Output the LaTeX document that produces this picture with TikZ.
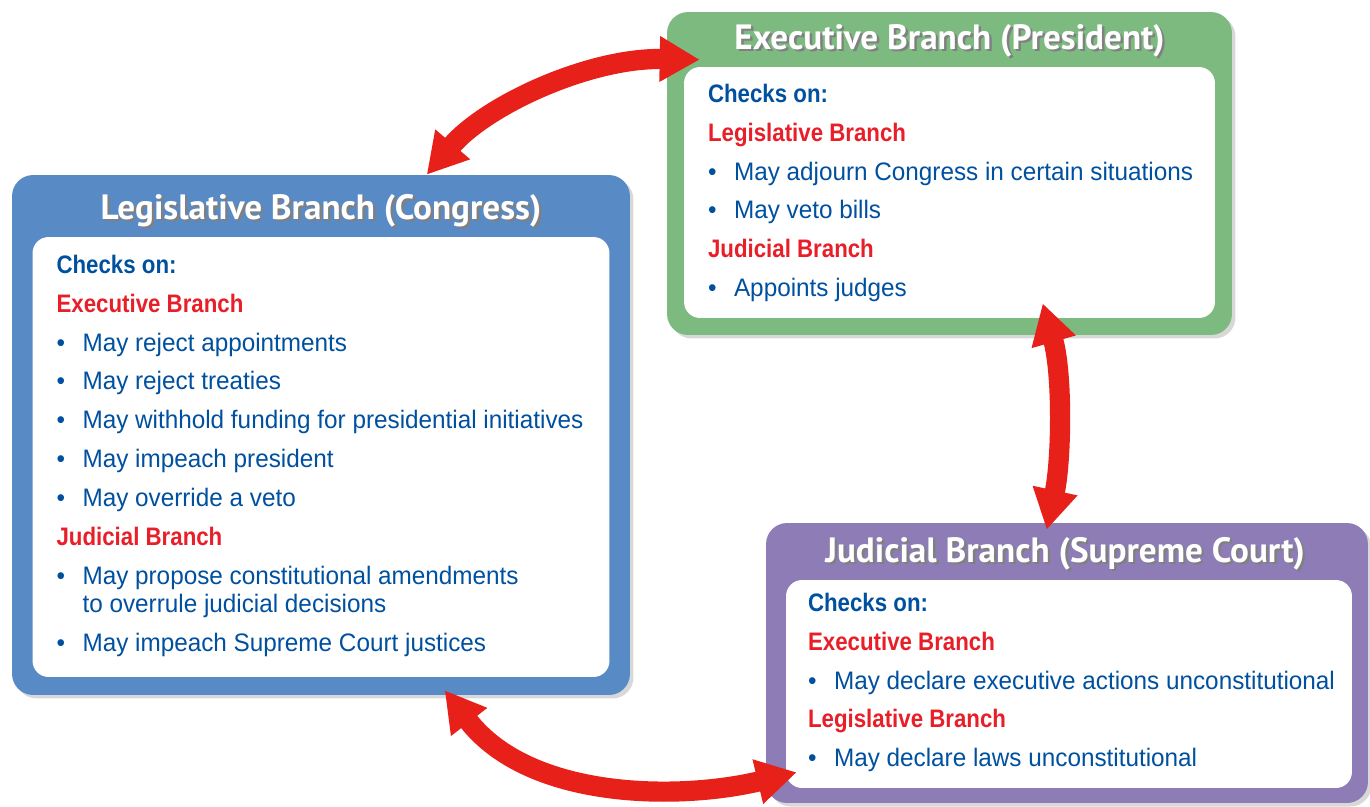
\documentclass[tikz,border=0pt]{standalone}
\usepackage{fontspec}
\setmainfont[FakeStretch=0.96,BoldFeatures={FakeStretch=0.88}]{Liberation Sans}
\newfontfamily\titlefont{PT Sans}
\usetikzlibrary{arrows.meta,calc,shadows}

\definecolor{legblue}{RGB}{88,138,198}
\definecolor{exegreen}{RGB}{125,186,128}
\definecolor{judpurple}{RGB}{141,124,182}
\definecolor{txtblue}{RGB}{0,80,160}
\definecolor{hdred}{RGB}{232,30,40}
\definecolor{arrred}{RGB}{232,32,26}

\newcommand{\bul}[1]{\makebox[0.52cm][l]{\textbullet}#1}
\newcommand{\hd}[1]{{\bfseries\color{hdred}#1}}
\newcommand{\chk}{{\bfseries Checks on:}}
\newcommand{\shtitle}[1]{\makebox[0pt][l]{\hspace{1.4pt}\raisebox{-1.4pt}{\color{black!50}#1}}#1}

\begin{document}
\begin{tikzpicture}[x=0.02cm,y=-0.02cm,
  branch/.style={rounded corners=0.42cm, inner sep=0pt, drop shadow={shadow xshift=2pt,shadow yshift=-2pt,opacity=0.3}},
  panel/.style={fill=white, rounded corners=0.32cm, inner sep=0pt, anchor=south},
  ttl/.style={text=white, font=\titlefont\bfseries\fontsize{20}{22}\selectfont},
  body/.style={anchor=north west, inner sep=0pt, align=left, text=txtblue, font=\fontsize{14.4}{22.1}\selectfont},
  link/.style={arrred, line width=11.5pt, {Triangle[length=0.8cm,width=0.86cm]}-{Triangle[length=0.8cm,width=0.86cm]}}]
  \fill[white] (0,0) rectangle (1370,806);
  \useasboundingbox (0,0) rectangle (1370,806);

  \node[branch, fill=legblue, minimum width=12.36cm, minimum height=10.4cm] (leg) at (321,435) {};
  \node[panel, minimum width=11.54cm, minimum height=8.8cm] (legpanel) at ($(leg.south)+(0,-18)$) {};
  \node[ttl] (legtitle) at ($(leg.north)+(0,37)$) {\shtitle{Legislative Branch (Congress)}};
  \node[body] (legtext) at ($(legpanel.north west)+(24,18)$) {\chk\\
    \hd{Executive Branch}\\
    \bul{May reject appointments}\\
    \bul{May reject treaties}\\
    \bul{May withhold funding for presidential initiatives}\\
    \bul{May impeach president}\\
    \bul{May override a veto}\\
    \hd{Judicial Branch}\\
    \bul{May propose constitutional amendments}\\[-6pt]
    \hspace*{0.52cm}to overrule judicial decisions\\
    \bul{May impeach Supreme Court justices}};

  \node[branch, fill=exegreen, minimum width=11.3cm, minimum height=6.46cm] (exe) at (949.5,173.5) {};
  \node[panel, minimum width=10.62cm, minimum height=5.02cm] (exepanel) at ($(exe.south)+(0,-17)$) {};
  \node[ttl] (exetitle) at ($(exe.north)+(0,30)$) {\shtitle{Executive Branch (President)}};
  \node[body] (exetext) at ($(exepanel.north west)+(24,17)$) {\chk\\
    \hd{Legislative Branch}\\
    \bul{May adjourn Congress in certain situations}\\
    \bul{May veto bills}\\
    \hd{Judicial Branch}\\
    \bul{Appoints judges}};

  \node[branch, fill=judpurple, minimum width=12.04cm, minimum height=5.6cm] (jud) at (1067,663) {};
  \node[panel, minimum width=11.32cm, minimum height=4.16cm] (judpanel) at ($(jud.south)+(2,-15)$) {};
  \node[ttl] (judtitle) at ($(jud.north)+(-2,32)$) {\shtitle{Judicial Branch (Supreme Court)}};
  \node[body] (judtext) at ($(judpanel.north west)+(22,13)$) {\chk\\
    \hd{Executive Branch}\\
    \bul{May declare executive actions unconstitutional}\\
    \hd{Legislative Branch}\\
    \bul{May declare laws unconstitutional}};

  \draw[link] ($(exe.north west)+(33,48)$) .. controls +(-110,-2) and +(60,-70) .. ($(leg.north west)+(415,0)$);
  \draw[link] ($(exe.south west)+(376,-32)$) .. controls +(20,70) and +(15,-70) .. ($(jud.north west)+(281,7)$);
  \draw[link] ($(leg.south west)+(433,-5)$) .. controls +(85,110) and +(-117,28) .. ($(jud.south west)+(31,-31)$);
\end{tikzpicture}
\end{document}
